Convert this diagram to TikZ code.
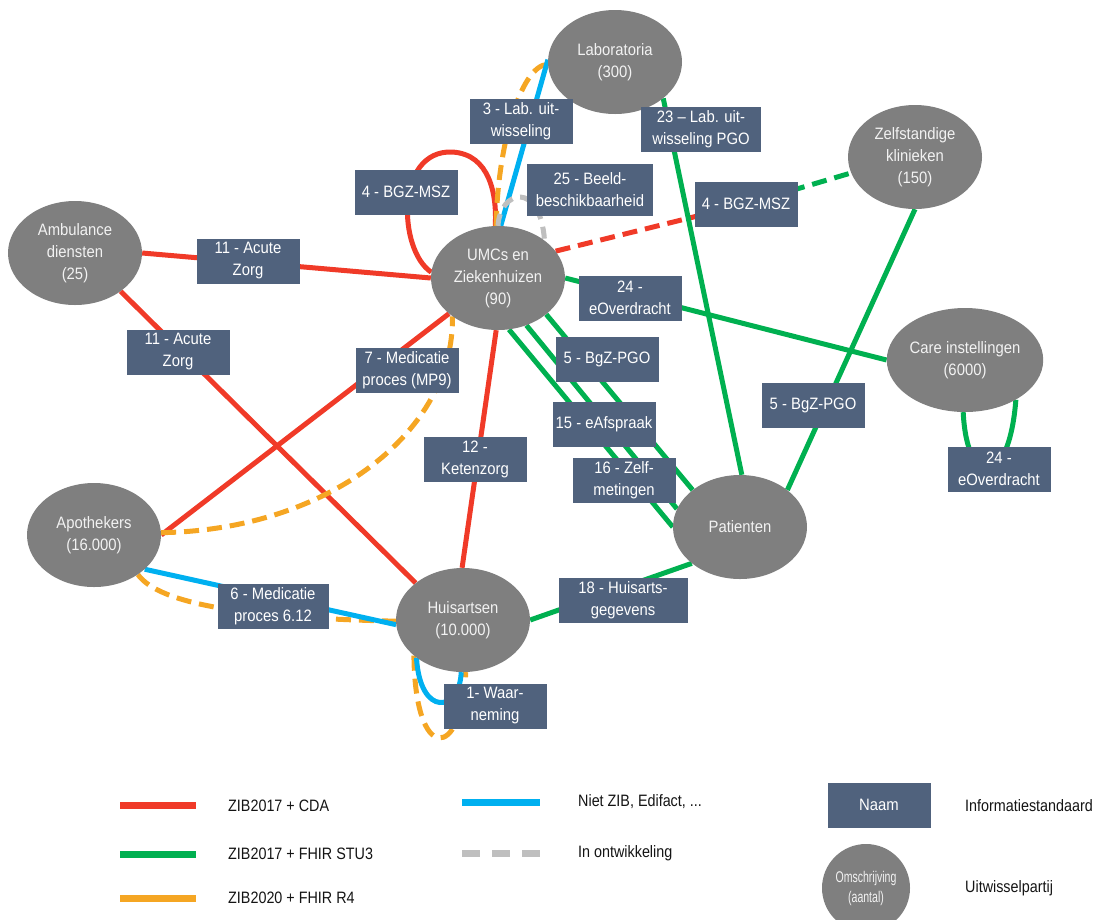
\documentclass[tikz,border=0pt]{standalone}
\usepackage{fontspec}
\setmainfont{Liberation Sans}[FakeStretch=0.9]
\newfontfamily\legendfont{Liberation Sans}[FakeStretch=0.87]
\newfontfamily\omschrfont{Liberation Sans}[FakeStretch=0.68]
\usetikzlibrary{shapes.geometric,backgrounds}
\definecolor{cdared}{RGB}{240,58,40}
\definecolor{stugreen}{RGB}{0,176,80}
\definecolor{rfourorange}{RGB}{245,166,35}
\definecolor{nietblue}{RGB}{0,176,240}
\definecolor{devgray}{RGB}{191,191,191}
\definecolor{partygray}{RGB}{127,127,127}
\definecolor{partytext}{RGB}{242,242,242}
\definecolor{standardblue}{RGB}{80,98,125}
\definecolor{legendblack}{RGB}{20,20,20}

\begin{document}
\begin{tikzpicture}[x=1pt, y=-1pt,
  party/.style={ellipse, fill=partygray, text=partytext, minimum width=134pt,
    minimum height=104pt, inner sep=0pt, align=center, font=\fontsize{16.5}{22}\selectfont},
  standard/.style={rectangle, fill=standardblue, text=white, minimum width=103pt,
    minimum height=45pt, inner sep=0pt, align=center, font=\fontsize{16.5}{22}\selectfont},
  legendtext/.style={anchor=west, inner sep=0pt, text=legendblack,
    font=\legendfont\fontsize{16.5}{22}\selectfont},
  cda/.style={draw=cdared, line width=5pt},
  stu/.style={draw=stugreen, line width=5pt},
  rfour/.style={draw=rfourorange, line width=5pt},
  niet/.style={draw=nietblue, line width=5pt},
  indev/.style={draw=devgray, line width=5pt, dash pattern=on 12pt off 8pt},
  streep/.style={dash pattern=on 15pt off 8pt}]
\useasboundingbox (0,0) rectangle (1099,919);

% uitwisselpartijen
\node[party] (lab) at (615,62) {Laboratoria\\(300)};
\node[party] (umc) at (498,278) {UMCs en\\Ziekenhuizen\\(90)};
\node[party] (amb) at (75,253) {Ambulance\\diensten\\(25)};
\node[party] (apo) at (94,535) {Apothekers\\(16.000)};
\node[party] (huis) at (463,620) {Huisartsen\\(10.000)};
\node[party] (pat) at (740,527) {Patienten};
\node[party] (zelf) at (915,157) {Zelfstandige\\klinieken\\(150)};
\node[party] (care) at (965,360) {Care instellingen\\(6000)};

% informatiestandaarden
\node[standard] (b3) at (521,121) {3 - Lab. uit-\\wisseling};
\node[standard, minimum width=120pt] (b23) at (701,129) {23 – Lab. uit-\\wisseling PGO};
\node[standard] (b4l) at (406,192) {4 - BGZ-MSZ};
\node[standard, minimum width=126pt, minimum height=52pt] (b25) at (590,190) {25 - Beeld-\\beschikbaarheid};
\node[standard] (b4r) at (746,204) {4 - BGZ-MSZ};
\node[standard] (b24) at (630,298) {24 -\\eOverdracht};
\node[standard] (b11a) at (248,261) {11 - Acute\\Zorg};
\node[standard] (b11b) at (178,352) {11 - Acute\\Zorg};
\node[standard] (b7) at (407,370) {7 - Medicatie\\proces (MP9)};
\node[standard] (b12) at (475,459) {12 -\\Ketenzorg};
\node[standard] (b5a) at (607,359) {5 - BgZ-PGO};
\node[standard] (b15) at (604,424) {15 - eAfspraak};
\node[standard] (b16) at (624,480) {16 - Zelf-\\metingen};
\node[standard] (b5b) at (813,405) {5 - BgZ-PGO};
\node[standard, minimum width=129pt] (b18) at (623,600) {18 - Huisarts-\\gegevens};
\node[standard, minimum width=111pt] (b6) at (273,606) {6 - Medicatie\\proces 6.12};
\node[standard] (b1) at (495,706) {1- Waar-\\neming};
\node[standard] (b24r) at (999,469) {24 -\\eOverdracht};

\begin{pgfonlayer}{background}
% ZIB2017 + CDA
\draw[cda] (amb.east) -- (umc.west);
\draw[cda] (amb.320) -- (huis.142);
\draw[cda] (apo.east) -- (umc.216);
\draw[cda] (umc.268) -- (huis.91);
\draw[cda] (umc.175) .. controls (398,250) and (395,150) .. (452,152)
  .. controls (490,154) and (497,195) .. (umc.93);
\draw[cda, streep] (umc.25) -- (b4r.center);
% ZIB2017 + FHIR STU3
\draw[stu, streep] (b4r.center) -- (zelf.194);
\draw[stu] (lab.323) -- (pat.88);
\draw[stu] (umc.east) -- (care.west);
\draw[stu] (zelf.270) -- (pat.38);
\draw[stu] (umc.323) -- (pat.142);
\draw[stu] (umc.301) -- (pat.164);
\draw[stu] (umc.282) -- (pat.180);
\draw[stu] (huis.east) -- (pat.217);
\draw[stu] (care.268) .. controls (967,490) and (1009,490) .. (care.322);
% ZIB2020 + FHIR R4
\draw[rfour, streep] (umc.92) .. controls (497,150) and (520,65) .. (lab.182);
\draw[rfour, streep] (apo.2) .. controls (330,530) and (455,430) .. (umc.220);
\draw[rfour, streep] (apo.318) .. controls (160,605) and (250,618) .. (huis.181);
\draw[rfour, streep] (huis.216) .. controls (415,765) and (462,760) .. (huis.273);
% niet ZIB
\draw[niet] (umc.87) -- (lab.178);
\draw[niet] (apo.326) -- (huis.184);
\draw[niet] (huis.219) .. controls (420,718) and (460,712) .. (huis.268);
% in ontwikkeling
\draw[indev] (umc.90) .. controls (500,190) and (540,180) .. (umc.39);
\end{pgfonlayer}

% legenda
\draw[cda, line width=7pt] (120,805) -- (196,805);
\draw[stu, line width=7pt] (120,854) -- (196,854);
\draw[rfour, line width=7pt] (120,898) -- (196,898);
\draw[niet, line width=7pt] (462,802) -- (540,802);
\draw[indev, line width=7pt, dash pattern=on 18pt off 12pt] (462,853) -- (540,853);
\node[legendtext] at (228,806) {ZIB2017 + CDA};
\node[legendtext] at (228,854) {ZIB2017 + FHIR STU3};
\node[legendtext] at (228,898) {ZIB2020 + FHIR R4};
\node[legendtext] at (578,802) {Niet ZIB, Edifact, ...};
\node[legendtext] at (578,853) {In ontwikkeling};
\node[standard] (naam) at (879,805) {Naam};
\node[party, minimum width=88pt, minimum height=88pt, font=\omschrfont\fontsize{15.5}{20}\selectfont]
  (omschr) at (866,888) {Omschrijving\\(aantal)};
\node[legendtext] at (965,806) {Informatiestandaard};
\node[legendtext] at (965,888) {Uitwisselpartij};
\end{tikzpicture}
\end{document}
